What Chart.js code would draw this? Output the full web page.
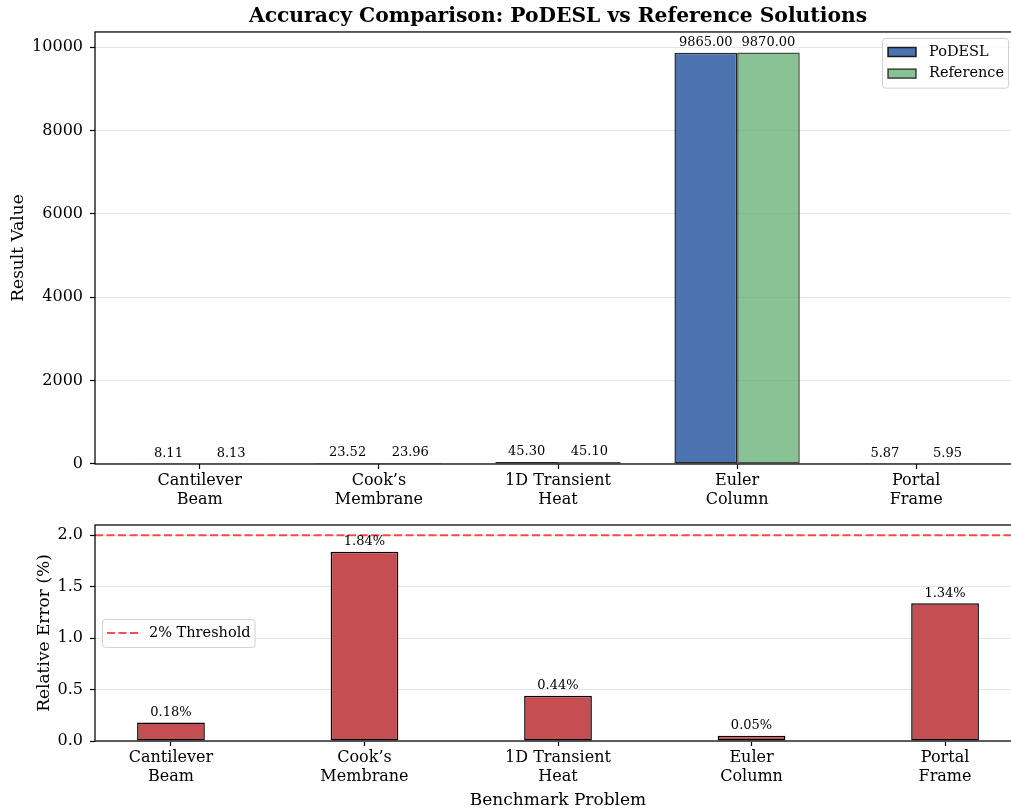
<!DOCTYPE html>
<html>
<head>
<meta charset="utf-8">
<title>Accuracy Comparison: PoDESL vs Reference Solutions</title>
<script src="https://cdn.jsdelivr.net/npm/chart.js@4.4.1/dist/chart.umd.min.js"></script>
<style>
  html, body { margin: 0; padding: 0; background: #fff; overflow: hidden; }
  #wrap { position: relative; width: 1011px; height: 812px; overflow: hidden; background: #fff; }
  #wrap canvas { position: absolute; left: 0; }
  #resultChart { top: 0; }
  #errorChart { top: 512px; }
</style>
</head>
<body>
<div id="wrap">
  <canvas id="resultChart" width="1030" height="512"></canvas>
  <canvas id="errorChart" width="1030" height="300"></canvas>
</div>
<script>
// Benchmarks, two-line tick labels
const problems = [
  ['Cantilever', 'Beam'],
  ['Cook\u2019s', 'Membrane'],
  ['1D Transient', 'Heat'],
  ['Euler', 'Column'],
  ['Portal', 'Frame']
];
const podeslValues = [8.11, 23.52, 45.30, 9865.00, 5.87];
const referenceValues = [8.13, 23.96, 45.10, 9870.00, 5.95];
const relativeErrors = [0.18, 1.84, 0.44, 0.05, 1.34];
const errorThreshold = 2.0;

const resultTicks = [0, 2000, 4000, 6000, 8000, 10000];
const errorTicks = [0.0, 0.5, 1.0, 1.5, 2.0];

const SERIF = '"DejaVu Serif", serif';
Chart.defaults.font.family = SERIF;
Chart.defaults.color = '#000';

// axis range = bar extents plus a 5% margin on each side
function xLimits(halfWidth) {
  const lo = -halfWidth, hi = problems.length - 1 + halfWidth;
  const m = (hi - lo) * 0.05;
  return [lo - m, hi + m];
}
const toPoints = arr => arr.map((v, i) => ({ x: i, y: v }));

const xlimTop = xLimits(0.35);
const xlimBottom = xLimits(0.175);
const ymaxTop = Math.max(...podeslValues, ...referenceValues) * 1.05;
const ymaxBottom = Math.max(...relativeErrors, errorThreshold) * 1.05;

// black frame round the plot area
const spines = {
  id: 'spines',
  afterDatasetsDraw(chart) {
    const { ctx, chartArea: a } = chart;
    ctx.save();
    ctx.strokeStyle = '#000';
    ctx.lineWidth = 1.25;
    ctx.strokeRect(a.left, a.top, a.right - a.left, a.bottom - a.top);
    ctx.restore();
  }
};

// value text above each bar
function barLabels(format, gap) {
  return {
    id: 'barLabels',
    afterDatasetsDraw(chart) {
      const { ctx } = chart;
      ctx.save();
      ctx.font = '13px ' + SERIF;
      ctx.fillStyle = '#000';
      ctx.textAlign = 'center';
      ctx.textBaseline = 'alphabetic';
      chart.data.datasets.forEach((ds, di) => {
        if (ds.type === 'line') return;
        chart.getDatasetMeta(di).data.forEach((bar, i) => {
          ctx.fillText(format(ds.data[i].y), bar.x, bar.y - gap);
        });
      });
      ctx.restore();
    }
  };
}

// legend box drawn inside the plot area
function insideLegend(place) {
  return {
    id: 'insideLegend',
    afterDraw(chart) {
      const { ctx, chartArea: a } = chart;
      const items = chart.data.datasets.filter(d => d.inLegend);
      ctx.save();
      ctx.font = '14.5px ' + SERIF;
      const textW = Math.max(...items.map(d => ctx.measureText(d.label).width));
      const rowH = 21.6;
      const w = 47 + textW + 4;
      const h = items.length * rowH + 6.5;
      let x, y;
      if (place === 'upper right') {
        x = a.right - 13 - w;
        y = a.top + 6;
      } else {
        x = a.left + 7;
        y = (a.top + a.bottom) / 2 - h / 2;
      }
      ctx.fillStyle = 'rgba(255,255,255,0.8)';
      ctx.strokeStyle = '#d2d2d2';
      ctx.lineWidth = 1;
      ctx.beginPath();
      if (ctx.roundRect) ctx.roundRect(x + 0.5, y + 0.5, w, h, 3);
      else ctx.rect(x + 0.5, y + 0.5, w, h);
      ctx.fill();
      ctx.stroke();
      items.forEach((d, i) => {
        const cy = y + 3.25 + rowH * (i + 0.5);
        if (d.type === 'line') {
          ctx.strokeStyle = d.borderColor;
          ctx.lineWidth = d.borderWidth;
          ctx.setLineDash(d.borderDash);
          ctx.beginPath();
          ctx.moveTo(x + 5, cy);
          ctx.lineTo(x + 36, cy);
          ctx.stroke();
          ctx.setLineDash([]);
        } else {
          ctx.fillStyle = '#fff';
          ctx.fillRect(x + 6, cy - 4.5, 28, 9);
          ctx.fillStyle = d.backgroundColor;
          ctx.fillRect(x + 6, cy - 4.5, 28, 9);
          ctx.strokeStyle = d.borderColor;
          ctx.lineWidth = 1.5;
          ctx.strokeRect(x + 6, cy - 4.5, 28, 9);
        }
        ctx.fillStyle = '#000';
        ctx.textAlign = 'left';
        ctx.textBaseline = 'middle';
        ctx.fillText(d.label, x + 47, cy);
      });
      ctx.restore();
    }
  };
}

function xAxis(limits, height, title) {
  return {
    type: 'linear',
    min: limits[0],
    max: limits[1],
    offset: false,
    afterBuildTicks: s => { s.ticks = problems.map((_, i) => ({ value: i })); },
    afterFit: s => { s.height = height; },
    ticks: { callback: v => problems[v], font: { size: 16 }, padding: 2.5, maxRotation: 0, autoSkip: false },
    grid: { offset: false, drawOnChartArea: false, drawTicks: true, tickLength: 5, tickColor: '#000', tickWidth: 1.2 },
    border: { display: false },
    title: title
      ? { display: true, text: title, font: { size: 17 }, padding: { top: 0, bottom: 1.5 } }
      : { display: false }
  };
}

function yAxis(max, tickValues, fmt, title, titlePad) {
  return {
    min: 0,
    max: max,
    afterBuildTicks: s => { s.ticks = tickValues.map(v => ({ value: v })); },
    afterFit: s => {
      s.width = 95;
      s.paddingTop = 0;
      s.paddingBottom = 0;
    },
    ticks: { callback: fmt, font: { size: 16 }, padding: 7 },
    grid: { color: '#e6e6e6', lineWidth: 1, tickLength: 5, tickColor: '#000', tickWidth: 1.2 },
    border: { display: false },
    title: { display: true, text: title, font: { size: 17 }, padding: { top: titlePad, bottom: 0 } }
  };
}

// upper panel: result values
new Chart(document.getElementById('resultChart'), {
  type: 'bar',
  data: {
    datasets: [
      {
        label: 'PoDESL',
        data: toPoints(podeslValues),
        backgroundColor: '#4C72B0',
        borderColor: 'rgba(0,0,0,0.85)',
        borderWidth: 1.5,
        borderSkipped: false,
        inLegend: true
      },
      {
        label: 'Reference',
        data: toPoints(referenceValues),
        backgroundColor: 'rgba(85,168,104,0.7)',
        borderColor: 'rgba(0,0,0,0.7)',
        borderWidth: 1.5,
        borderSkipped: false,
        inLegend: true
      }
    ]
  },
  options: {
    responsive: false,
    animation: false,
    devicePixelRatio: 1,
    categoryPercentage: 0.7,
    barPercentage: 1.0,
    layout: { padding: { left: 0, right: 9, top: 0, bottom: 0 } },
    plugins: {
      legend: { display: false },
      tooltip: { enabled: false },
      title: {
        display: true,
        fullSize: false,
        text: 'Accuracy Comparison: PoDESL vs Reference Solutions',
        font: { size: 20.3, weight: 'bold' },
        color: '#000',
        padding: { top: 5, bottom: 2.6 }
      }
    },
    scales: {
      x: xAxis(xlimTop, 48, null),
      y: yAxis(ymaxTop, resultTicks, v => String(v), 'Result Value', 8.5)
    }
  },
  plugins: [spines, barLabels(v => v.toFixed(2), 7), insideLegend('upper right')]
});

// lower panel: relative error per benchmark
new Chart(document.getElementById('errorChart'), {
  type: 'bar',
  data: {
    datasets: [
      {
        label: 'Relative Error',
        data: toPoints(relativeErrors),
        backgroundColor: '#C44E52',
        borderColor: '#000',
        borderWidth: 1.5,
        borderSkipped: false
      },
      {
        type: 'line',
        label: '2% Threshold',
        data: [{ x: xlimBottom[0], y: errorThreshold }, { x: xlimBottom[1], y: errorThreshold }],
        borderColor: 'rgba(255,0,0,0.7)',
        borderWidth: 2,
        borderDash: [8, 3.5],
        pointRadius: 0,
        fill: false,
        inLegend: true
      }
    ]
  },
  options: {
    responsive: false,
    animation: false,
    devicePixelRatio: 1,
    categoryPercentage: 0.35,
    barPercentage: 1.0,
    layout: { padding: { left: 0, right: 9, top: 13, bottom: 0 } },
    plugins: {
      legend: { display: false },
      tooltip: { enabled: false }
    },
    scales: {
      x: xAxis(xlimBottom, 71, 'Benchmark Problem'),
      y: yAxis(ymaxBottom, errorTicks, v => v.toFixed(1), 'Relative Error (%)', 34)
    }
  },
  plugins: [spines, barLabels(v => v.toFixed(2) + '%', 6.5), insideLegend('center left')]
});
</script>
</body>
</html>
